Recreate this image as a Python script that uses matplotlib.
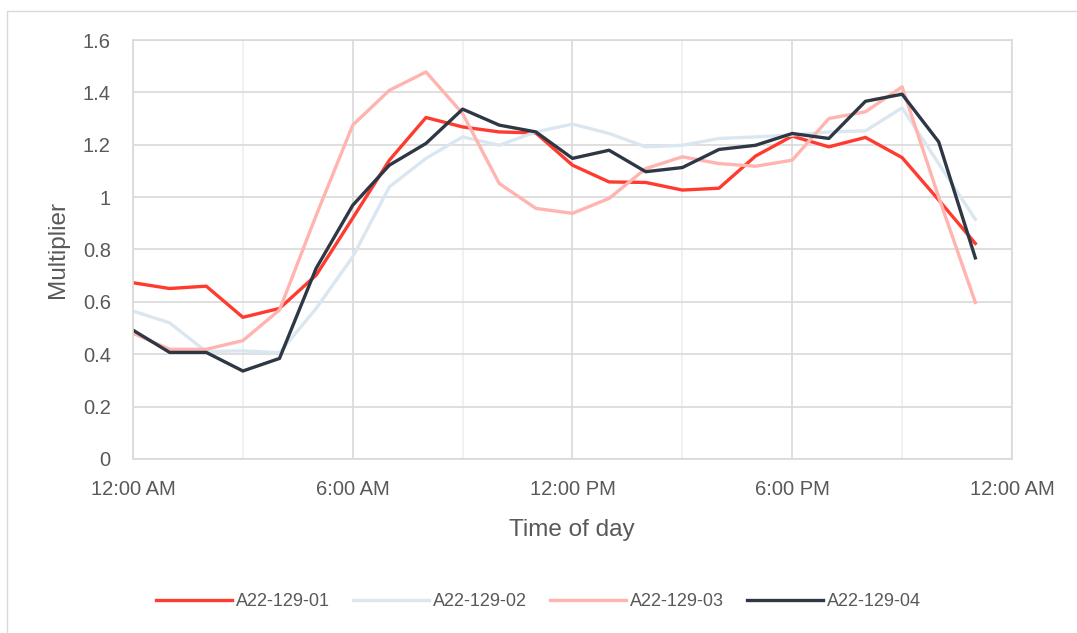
import numpy as np
import matplotlib.pyplot as plt
from matplotlib.patches import Rectangle
from matplotlib.ticker import MultipleLocator, FuncFormatter

plt.rcParams['font.family'] = ['Liberation Sans', 'DejaVu Sans']

# hourly multipliers, hour 0..23
hours = list(range(24))
s01 = [0.673, 0.651, 0.660, 0.541, 0.575, 0.702, 0.920, 1.141, 1.304, 1.268, 1.249, 1.245,
       1.122, 1.058, 1.056, 1.027, 1.034, 1.157, 1.233, 1.192, 1.228, 1.151, 0.989, 0.823]
s02 = [0.565, 0.520, 0.410, 0.413, 0.406, 0.575, 0.772, 1.039, 1.148, 1.230, 1.198, 1.249,
       1.279, 1.243, 1.192, 1.198, 1.224, 1.230, 1.237, 1.249, 1.253, 1.341, 1.128, 0.915]
s03 = [0.480, 0.419, 0.419, 0.452, 0.569, 0.930, 1.275, 1.408, 1.478, 1.319, 1.052, 0.957,
       0.938, 0.995, 1.109, 1.154, 1.128, 1.118, 1.141, 1.300, 1.326, 1.421, 1.000, 0.598]
s04 = [0.492, 0.407, 0.407, 0.336, 0.384, 0.728, 0.969, 1.122, 1.205, 1.336, 1.275, 1.249,
       1.148, 1.179, 1.097, 1.113, 1.182, 1.198, 1.243, 1.224, 1.366, 1.393, 1.211, 0.768]

names = ['A22-129-01', 'A22-129-02', 'A22-129-03', 'A22-129-04']
colors = ['#FF3B30', '#DAE7F1', '#FFB4AF', '#2E3844']
x_labels = ['12:00 AM', '6:00 AM', '12:00 PM', '6:00 PM', '12:00 AM']
txt = '#595959'

fig = plt.figure(figsize=(10.77, 6.33), dpi=100)
ax = fig.add_axes([0.1235, 0.2749, 0.8161, 0.6619])

for vals, nm, c in zip([s01, s02, s03, s04], names, colors):
    ax.plot(hours, vals, color=c, lw=2.4, label=nm)

ax.set_xlim(0, 24)
ax.set_ylim(0, 1.6)
ax.set_xticks([0, 6, 12, 18, 24])
ax.set_xticklabels(x_labels)
ax.xaxis.set_minor_locator(MultipleLocator(3))
ax.yaxis.set_major_locator(MultipleLocator(0.2))
ax.yaxis.set_major_formatter(FuncFormatter(lambda v, p: f'{v:g}'))

ax.grid(axis='y', color='#d9d9d9', lw=1.2)
ax.grid(axis='x', which='major', color='#d9d9d9', lw=1.2)
ax.grid(axis='x', which='minor', color='#efefef', lw=1.2)
ax.set_axisbelow(True)
for sp in ax.spines.values():
    sp.set_color('#d9d9d9')
    sp.set_linewidth(1.2)
ax.tick_params(which='both', length=0, labelsize=14.5, colors=txt)
ax.tick_params(axis='x', pad=15)
ax.tick_params(axis='y', pad=16)

# axis titles
fig.text(0.531, 0.163, 'Time of day', fontsize=17.5, color=txt, ha='center', va='center')
fig.text(0.054, 0.606, 'Multiplier', fontsize=17.5, color=txt, ha='center', va='center',
         rotation=90)

leg = fig.legend(loc='center', bbox_to_anchor=(0.5, 0.049), ncol=4, frameon=False,
                 fontsize=13, handlelength=4.2, columnspacing=1.3, handletextpad=0.2)
for t in leg.get_texts():
    t.set_color(txt)

fig.patches.append(Rectangle((0.0065, -0.01), 1.0, 0.9926, transform=fig.transFigure,
                             fill=False, edgecolor='#d9d9d9', lw=1))

fig.savefig('out.png', dpi=100)
